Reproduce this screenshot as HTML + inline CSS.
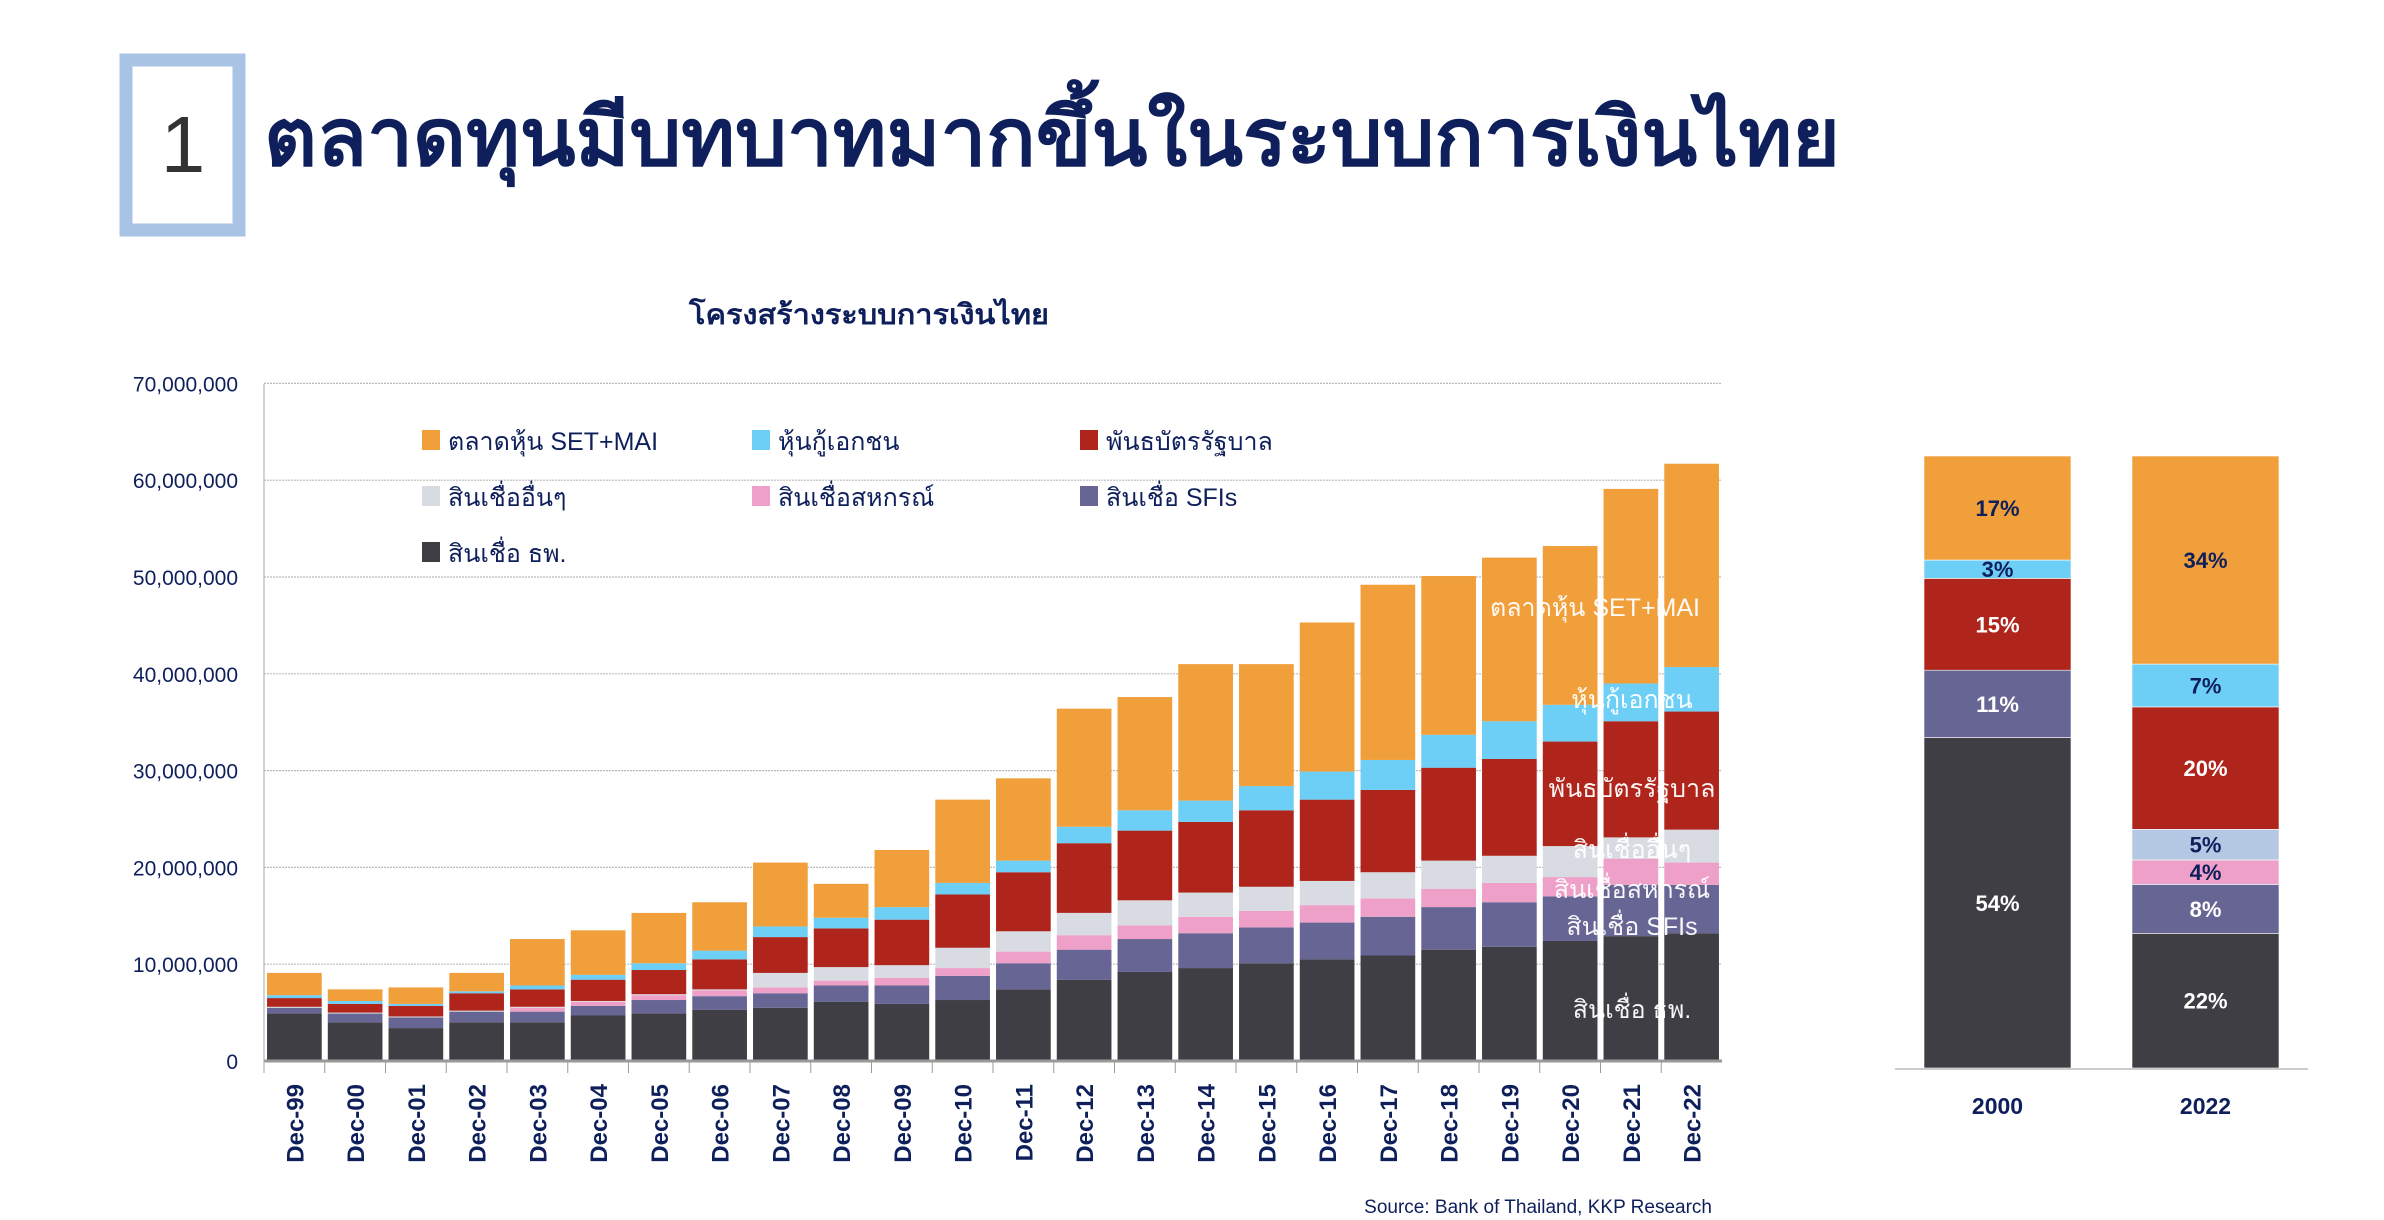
<!DOCTYPE html>
<html><head><meta charset="utf-8">
<style>
html,body{margin:0;padding:0;background:#fff;}
svg{display:block;font-family:"Liberation Sans","DejaVu Sans",sans-serif;}
</style></head>
<body>
<svg id="root" width="2384" height="1220" viewBox="0 0 2384 1220">
  <rect x="126" y="60" width="113" height="170" fill="none" stroke="#a9c3e4" stroke-width="13"/>
  <text x="183" y="172" font-size="80" fill="#333" text-anchor="middle">1</text>
  <text x="264" y="165" font-size="80" font-weight="bold" fill="#0e1f5b" textLength="1576" lengthAdjust="spacingAndGlyphs">ตลาดทุนมีบทบาทมากขึ้นในระบบการเงินไทย</text>
  <text x="869" y="324" font-size="28" font-weight="bold" fill="#0e1f5b" text-anchor="middle" textLength="360" lengthAdjust="spacingAndGlyphs">โครงสร้างระบบการเงินไทย</text>
  <g id="left"></g>
  <g id="right"></g>
  <text x="1712" y="1213" font-size="19" fill="#0e1f5b" text-anchor="end">Source: Bank of Thailand, KKP Research</text>
</svg>
<script>
const categories = ["Dec-99","Dec-00","Dec-01","Dec-02","Dec-03","Dec-04","Dec-05","Dec-06","Dec-07","Dec-08","Dec-09","Dec-10","Dec-11","Dec-12","Dec-13","Dec-14","Dec-15","Dec-16","Dec-17","Dec-18","Dec-19","Dec-20","Dec-21","Dec-22"];
const bankLoans = [4.9,4.0,3.4,4.0,4.0,4.7,4.9,5.3,5.5,6.1,5.9,6.3,7.4,8.4,9.2,9.6,10.1,10.5,10.9,11.5,11.8,12.4,12.9,13.2];
const sfiLoans = [0.6,0.9,1.1,1.1,1.1,1.0,1.4,1.4,1.5,1.7,1.9,2.5,2.7,3.1,3.4,3.6,3.7,3.8,4.0,4.4,4.6,4.6,5.3,5.0];
const coopLoans = [0,0,0,0,0.4,0.4,0.5,0.6,0.6,0.5,0.8,0.8,1.2,1.5,1.4,1.7,1.7,1.8,1.9,1.9,2.0,2.0,2.7,2.3];
const otherLoans = [0.1,0.1,0.1,0.1,0.1,0.1,0.1,0.1,1.5,1.4,1.3,2.1,2.1,2.3,2.6,2.5,2.5,2.5,2.7,2.9,2.8,3.2,2.2,3.4];
const govBonds = [0.9,0.9,1.1,1.8,1.8,2.2,2.5,3.1,3.7,4.0,4.7,5.5,6.1,7.2,7.2,7.3,7.9,8.4,8.5,9.6,10.0,10.8,12.0,12.2];
const corpBonds = [0.3,0.3,0.2,0.2,0.4,0.5,0.7,0.9,1.1,1.1,1.3,1.2,1.2,1.7,2.1,2.2,2.5,2.9,3.1,3.4,3.9,3.8,3.9,4.6];
const equity = [2.3,1.2,1.7,1.9,4.8,4.6,5.2,5.0,6.6,3.5,5.9,8.6,8.5,12.2,11.7,14.1,12.6,15.4,18.1,16.4,16.9,16.4,20.1,21.0];
const yTicks = [0,10,20,30,40,50,60,70];
const yTickLabels = ["0","10,000,000","20,000,000","30,000,000","40,000,000","50,000,000","60,000,000","70,000,000"];
const shareCategories = ["2000","2022"];
const shareBank = [54,22];
const shareSfi = [11,8];
const shareCoop = [0,4];
const shareOther = [0,5];
const shareGov = [15,20];
const shareCorp = [3,7];
const shareEquity = [17,34];

const NS="http://www.w3.org/2000/svg";
function mk(parent,tag,attrs,text){const e=document.createElementNS(NS,tag);for(const k in attrs)e.setAttribute(k,attrs[k]);if(text!==undefined)e.textContent=text;parent.appendChild(e);return e;}
const L=document.getElementById('left');
const x0=264,x1=1722,y0=1061,pxPerM=9.68;
const yScale=v=>y0-v*pxPerM;
const band=(x1-x0)/categories.length;
const xScale=i=>x0+i*band;
const series=[
 {name:"bank",vals:bankLoans,color:"#3f3e45",label:"สินเชื่อ ธพ."},
 {name:"sfi",vals:sfiLoans,color:"#676594",label:"สินเชื่อ SFIs"},
 {name:"coop",vals:coopLoans,color:"#efa0c8",label:"สินเชื่อสหกรณ์"},
 {name:"other",vals:otherLoans,color:"#d8dce2",label:"สินเชื่ออื่นๆ"},
 {name:"gov",vals:govBonds,color:"#b0251b",label:"พันธบัตรรัฐบาล"},
 {name:"corp",vals:corpBonds,color:"#6dcff6",label:"หุ้นกู้เอกชน"},
 {name:"equity",vals:equity,color:"#f09f3a",label:"ตลาดหุ้น SET+MAI"}
];
// gridlines & y labels
yTicks.forEach((t,i)=>{
  if(t>0){const g=mk(L,'line',{x1:x0,x2:x1,y1:yScale(t),y2:yScale(t),stroke:"#bbb","stroke-width":1.2,"stroke-dasharray":"2,1"});
  
  }
  const lb=mk(L,'text',{x:238,y:yScale(t)+8,"font-size":21,fill:"#0e1f5b","text-anchor":"end"},yTickLabels[i]);
  
  
});
// bars
categories.forEach((c,i)=>{
  let cum=0;
  const bw=band*0.9,bx=xScale(i)+(band-bw)/2;
  series.forEach(s=>{
    const v=s.vals[i];
    const r=mk(L,'rect',{x:bx,y:yScale(cum+v),width:bw,height:Math.max(0,v*pxPerM),fill:s.color});
    
    
    cum+=v;
  });
  const t=mk(L,'text',{transform:`translate(${xScale(i)+band/2+9},1084) rotate(-90)`,"font-size":24,"font-weight":"bold",fill:"#0e1f5b","text-anchor":"end"},c);
  
  
  const tk=mk(L,'line',{x1:xScale(i),x2:xScale(i),y1:y0,y2:y0+12,stroke:"#999","stroke-width":1});
  
  
});
const ax=mk(L,'line',{x1:x0,x2:x1,y1:y0,y2:y0,stroke:"#999","stroke-width":3});


const ay=mk(L,'line',{x1:x0,x2:x0,y1:384,y2:y0+12,stroke:"#aaa","stroke-width":1});


// legend
const legendOrder=[6,5,4,3,2,1,0];
const legPos=[[422,441],[752,441],[1080,441],[422,497],[752,497],[1080,497],[422,553]];
legendOrder.forEach((si,k)=>{
  const s=series[si];const [lx,ly]=legPos[k];
  const sq=mk(L,'rect',{x:lx,y:ly-11,width:18,height:20,fill:s.color});
  
  
  const tx=mk(L,'text',{x:lx+26,y:ly+9,"font-size":25,fill:"#0e1f5b"},s.label);
  
  
});
// in-chart labels
const inLab=[[6,607],[5,699],[4,788],[3,849],[2,889],[1,926],[0,1009]];
inLab.forEach(([si,yy])=>{
  const t=mk(L,'text',{x:si===6?1595:1632,y:yy+9,"font-size":25,fill:"#fff","text-anchor":"middle","fill-opacity":0.95},series[si].label);
  
  
});
// right chart
const R=document.getElementById('right');
const rTop=456,rBot=1068,rH=rBot-rTop;
const rX=[1924,2132],rW=147;
const shareSeries=[
 {name:"bank",vals:shareBank,color:"#3f3e45",tc:"#fff"},
 {name:"sfi",vals:shareSfi,color:"#676594",tc:"#fff"},
 {name:"coop",vals:shareCoop,color:"#efa0c8",tc:"#0e1f5b"},
 {name:"other",vals:shareOther,color:"#b4c7e3",tc:"#0e1f5b"},
 {name:"gov",vals:shareGov,color:"#b0251b",tc:"#fff"},
 {name:"corp",vals:shareCorp,color:"#6dcff6",tc:"#0e1f5b"},
 {name:"equity",vals:shareEquity,color:"#f09f3a",tc:"#0e1f5b"}
];
shareCategories.forEach((c,i)=>{
  let cum=0;
  shareSeries.forEach(s=>{
    const v=s.vals[i];if(v<=0)return;
    const yb=rBot-cum/100*rH,h=v/100*rH;
    const r=mk(R,'rect',{x:rX[i],y:yb-h,width:rW,height:h,fill:s.color,stroke:"#fff","stroke-width":0.6});
    
    
    const t=mk(R,'text',{x:rX[i]+rW/2,y:yb-h/2+8,"font-size":22,"font-weight":"bold",fill:s.tc,"text-anchor":"middle"},v+"%");
    
    
    cum+=v;
  });
  const lb=mk(R,'text',{x:rX[i]+rW/2,y:1114,"font-size":23,"font-weight":"bold",fill:"#0e1f5b","text-anchor":"middle"},c);
  
  
});
const rb=mk(R,'line',{x1:1895,x2:2308,y1:rBot+1,y2:rBot+1,stroke:"#ccc","stroke-width":2});


</script>
</body></html>
